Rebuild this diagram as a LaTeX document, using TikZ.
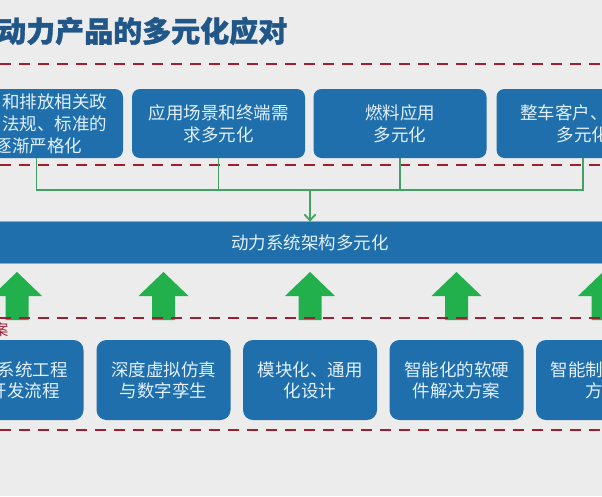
\documentclass[tikz,border=0pt]{standalone}
\usepackage{fontspec}
\newfontfamily\cjk{Noto Sans CJK SC}
\newfontfamily\cjkt[BoldFeatures={FakeBold=1.2}]{Noto Sans CJK SC}
\usetikzlibrary{arrows.meta}
\definecolor{bgc}{RGB}{236,236,236}
\definecolor{boxblue}{RGB}{31,111,172}
\definecolor{boxtext}{RGB}{226,240,250}
\definecolor{titleblue}{RGB}{32,86,136}
\definecolor{dashred}{RGB}{160,30,50}
\definecolor{arrgreen}{RGB}{34,176,76}
\definecolor{conngreen}{RGB}{66,162,98}
\definecolor{barline}{RGB}{120,175,220}
\begin{document}
\begin{tikzpicture}[x=1pt,y=-1pt,
  boxt/.style={fill=boxblue, rounded corners=8pt, minimum width=173pt, minimum height=69pt, inner sep=0pt, text=boxtext, align=center, font=\cjk\fontsize{17.5}{22}\selectfont},
  boxb/.style={boxt, rounded corners=10pt, minimum width=134pt, minimum height=80pt, font=\cjk\fontsize{17.5}{21}\selectfont},
  txt/.style={text=boxtext, inner sep=0pt, font=\cjk\fontsize{17.5}{22}\selectfont},
  reddash/.style={draw=dashred, line width=2.2pt, dash pattern=on 11pt off 8pt},
  conn/.style={draw=conngreen, line width=1.8pt},
  uparr/.style={fill=arrgreen}
]
\useasboundingbox (0,0) rectangle (602,496);
\clip (0,0) rectangle (602,496);
\fill[bgc] (0,0) rectangle (602,496);

% title
\node[anchor=west, inner sep=0pt, text=titleblue, font=\cjkt\bfseries\fontsize{29}{29}\selectfont] (title) at (-3,31) {动力产品的多元化应对};

% dashed separators
\draw[reddash] (0,64) -- (602,64);
\draw[reddash] (0,165) -- (602,165);

% top boxes
\node[boxt] (t1) at (36.5,123.5) {};
\node[txt, align=center] (t1txt) at (54.5,124) {和排放相关政\\法规、标准的\\逐渐严格化\hspace*{32pt}};
\node[boxt] (t2) at (218.5,123.5) {应用场景和终端需\\求多元化};
\node[boxt] (t3) at (400,123.5) {燃料应用\\多元化};
\node[boxt] (t4) at (583,123.5) {整车客户、\hspace*{38.5pt}\\多元化};

% central bar
\node[fill=boxblue, minimum width=640pt, minimum height=41pt, inner sep=0pt, text=boxtext, font=\cjk\fontsize{17.5}{22}\selectfont] (bar) at (310,242.5) {动力系统架构多元化};
\draw[barline, line width=1pt] (bar.north west) -- (bar.north east);
\draw[barline, line width=0.8pt] (bar.south west) -- (bar.south east);

% connectors
\coordinate (j) at (310,190);
\draw[conn] (t1.south) |- (j);
\draw[conn] (t4.south) |- (j);
\draw[conn] (t2.south) -- (t2.south |- j);
\draw[conn] (t3.south) -- (t3.south |- j);
\draw[conn, -{Straight Barb[length=6pt,width=11pt,line width=1.8pt]}] (j) -- (bar);

% green up arrows
\foreach \x in {17,163.5,310,456.5,603} {
  \fill[uparr] (\x,272) -- (\x+25,296) -- (\x+11.5,296) -- (\x+11.5,320) -- (\x-11.5,320) -- (\x-11.5,296) -- (\x-25,296) -- cycle;
}

\draw[reddash] (0,318) -- (602,318);
\draw[reddash] (0,430) -- (602,430);

% section label (clipped)
\node[anchor=east, inner sep=0pt, text=dashred, font=\cjk\fontsize{15}{15}\selectfont] (lab) at (8.5,330) {案};

% bottom boxes
\node[boxb] (b1) at (16.5,380) {};
\node[txt, align=right, anchor=east, font=\cjk\fontsize{17.5}{21}\selectfont] (b1txt) at (68,380) {系统工程\\开发流程\hspace*{8pt}};
\node[boxb] (b2) at (163.5,380) {深度虚拟仿真\\与数字孪生};
\node[boxb] (b3) at (310,380) {模块化、通用\\化设计};
\node[boxb] (b4) at (456.5,380) {智能化的软硬\\件解决方案};
\node[boxb] (b5) at (603,380) {智能制\hspace*{52.5pt}\\方\hspace*{17.5pt}};
\end{tikzpicture}
\end{document}
